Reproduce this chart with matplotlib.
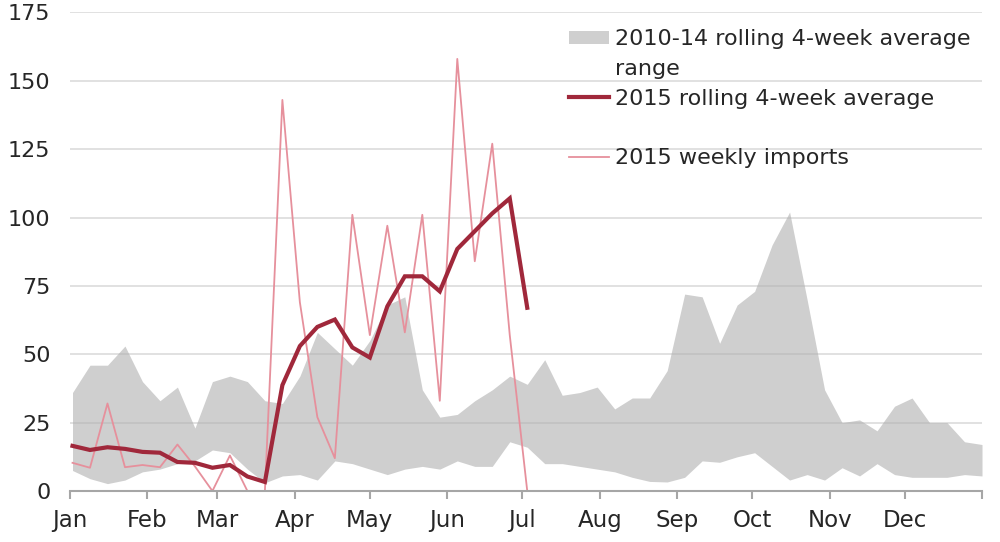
import matplotlib.pyplot as plt
import pandas as pd
from matplotlib.patches import Patch
from matplotlib.lines import Line2D

plt.rcParams['font.family'] = ['DejaVu Sans']

# weekly points, Jan 2 .. Dec 31 (53 weeks)
weeks = pd.date_range('2015-01-02', periods=53, freq='7D')

# 2010-14 rolling 4-week average range
range_low = [7.5, 4.5, 2.7, 4, 7, 8, 10, 11, 15, 14, 8, 3, 5.5, 6, 4, 11, 10, 8,
             6, 8, 9, 8, 11, 9, 9, 18, 16, 10, 10, 9, 8, 7, 5, 3.5, 3.3, 5,
             11, 10.5, 12.5, 14, 9, 4, 6, 4, 8.5, 5.5, 10, 6, 5, 5, 5, 6, 5.5]
range_high = [36, 46, 46, 53, 40, 33, 38, 23, 40, 42, 40, 33, 32, 42, 58, 52, 46, 55,
              68, 71, 37, 27, 28, 33, 37, 42, 39, 48, 35, 36, 38, 30, 34, 34, 44, 72,
              71, 54, 68, 73, 90, 102, 70, 37, 25, 26, 22, 31, 34, 25, 25, 18, 17]

# 2015 (through early July)
avg_2015 = [16.5, 15, 16, 15.4, 14.3, 14, 10.6, 10.3, 8.5, 9.5, 5.3, 3.3, 38.7, 53,
            60, 62.7, 52.5, 48.8, 67.5, 78.5, 78.5, 73, 88.5, 95, 101.5, 107, 67]
weekly_2015 = [10.3, 8.5, 32, 8.7, 9.5, 8.7, 17, 9, 0, 13, 0, 0, 143, 69, 27, 12,
               101, 57, 97, 58, 101, 33, 158, 84, 127, 57, 0]

month_starts = pd.date_range('2015-01-01', periods=13, freq='MS')
month_labels = ['Jan', 'Feb', 'Mar', 'Apr', 'May', 'Jun', 'Jul', 'Aug', 'Sep',
                'Oct', 'Nov', 'Dec', '']
y_ticks = [0, 25, 50, 75, 100, 125, 150, 175]

band_col = '#cfcfcf'
avg_col = '#a0283b'
wk_col = '#e6909c'
txt_col = '#262626'
axis_col = '#a6a6a6'

fig = plt.figure(figsize=(10, 5.42), dpi=100)
ax = fig.add_axes([0.070, 0.0941, 0.912, 0.883])

n = len(weekly_2015)
ax.fill_between(weeks, range_low, range_high, color=band_col, lw=0, zorder=1)
ax.plot(weeks[:n], weekly_2015, color=wk_col, lw=1.3, zorder=3)
ax.plot(weeks[:n], avg_2015, color=avg_col, lw=3, zorder=4, solid_joinstyle='miter')

ax.set_xlim(pd.Timestamp('2015-01-01'), pd.Timestamp('2016-01-01'))
ax.set_ylim(0, 175)
ax.set_yticks(y_ticks)
ax.set_xticks(month_starts)
ax.set_xticklabels(month_labels)

ax.grid(axis='y', color='#b0b0b0', alpha=0.45, lw=1.2, zorder=2)
for s in ['top', 'right', 'left']:
    ax.spines[s].set_visible(False)
ax.spines['bottom'].set_color(axis_col)
ax.spines['bottom'].set_linewidth(1.5)
ax.spines['bottom'].set_zorder(5)

ax.tick_params(axis='y', length=0, pad=14, labelsize=16, labelcolor=txt_col)
ax.tick_params(axis='x', length=6, width=1.5, color=axis_col, pad=7,
               labelsize=16.5, labelcolor=txt_col)

handles = [Patch(facecolor=band_col, edgecolor='none'),
           Line2D([], [], color='none'),
           Line2D([], [], color=avg_col, lw=3),
           Line2D([], [], color='none'),
           Line2D([], [], color=wk_col, lw=1.3)]
labels = ['2010-14 rolling 4-week average', 'range', '2015 rolling 4-week average',
          ' ', '2015 weekly imports']
leg = ax.legend(handles, labels, loc='upper left', bbox_to_anchor=(0.547, 0.965),
                frameon=False, fontsize=16, handlelength=1.8, handleheight=0.55,
                handletextpad=0.27, labelspacing=0.44, borderpad=0, borderaxespad=0)
for t in leg.get_texts():
    t.set_color(txt_col)

fig.savefig('out.png', dpi=100)
